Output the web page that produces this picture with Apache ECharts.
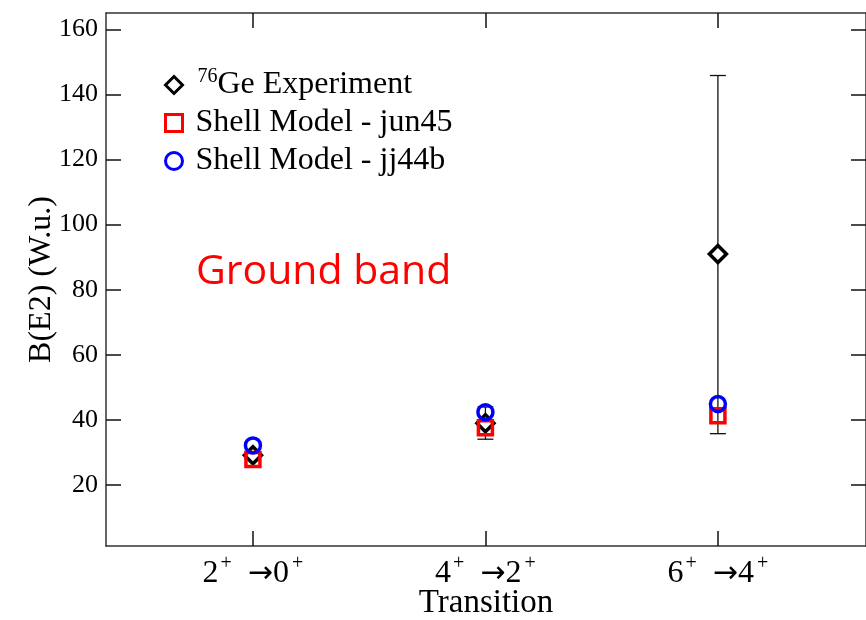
<!DOCTYPE html>
<html>
<head>
<meta charset="utf-8">
<script src="https://cdn.jsdelivr.net/npm/echarts@6/dist/echarts.min.js"></script>
<style>
  html, body { margin: 0; padding: 0; background: #fff; }
  #chart { width: 866px; height: 620px; }
</style>
</head>
<body>
<div id="chart"></div>
<script>
// transitions (x positions 1, 2, 3)
const transitions = [['2', '0'], ['4', '2'], ['6', '4']]
const xPos = [1, 2, 3]

// 76Ge experiment with error bars
const expValues = [29.2, 39.0, 91.0]
const expLow = [28.2, 34.1, 35.8]
const expHigh = [30.2, 44.0, 145.8]

// shell model
const jun45 = [27.9, 37.6, 41.3]
const jj44b = [32.2, 42.4, 44.9]

const yTicks = [20, 40, 60, 80, 100, 120, 140, 160]

const serif = '"Liberation Serif", "Times New Roman", serif'
const axisColor = '#333'

const chart = echarts.init(document.getElementById('chart'))

const pts = (vals) => vals.map((v, i) => [xPos[i], v])

chart.setOption({
  animation: false,
  grid: { left: 106, right: 0, top: 13, bottom: 74, outerBoundsMode: 'none' },
  legend: {
    orient: 'vertical',
    left: 159,
    top: 62,
    itemGap: 6,
    itemWidth: 17,
    itemHeight: 17,
    data: [
      { name: '76Ge Experiment', itemStyle: { color: '#fff', borderColor: '#000', borderWidth: 3 } },
      { name: 'Shell Model - jun45', itemStyle: { color: '#fff', borderColor: '#ff0000', borderWidth: 3 } },
      { name: 'Shell Model - jj44b', itemStyle: { color: '#fff', borderColor: '#0000ff', borderWidth: 3 } }
    ],
    formatter: (name) => {
      if (name === '76Ge Experiment') return '{sup|76}{g|Ge Experiment}'
      return '{t|' + name + '}'
    },
    textStyle: {
      fontFamily: serif,
      color: '#000',
      rich: {
        t: { fontFamily: serif, fontSize: 32, color: '#000', padding: [0, 0, 0, 8] },
        g: { fontFamily: serif, fontSize: 32, color: '#000', padding: [0, 0, 0, 0] },
        sup: { fontFamily: serif, fontSize: 20, color: '#000', padding: [0, 0, 16, 10] }
      }
    }
  },
  xAxis: [
    {
      type: 'value',
      min: 0.368,
      max: 3.637,
      name: 'Transition',
      nameLocation: 'middle',
      nameGap: 41,
      nameMoveOverlap: false,
      nameTextStyle: { fontFamily: serif, fontSize: 33, color: '#000' },
      splitLine: { show: false },
      axisLine: { lineStyle: { color: axisColor, width: 1.5 } },
      axisTick: { inside: true, length: 15, customValues: xPos, lineStyle: { color: '#111', width: 1.5 } },
      axisLabel: {
        customValues: xPos,
        margin: 8,
        formatter: (v) => {
          const t = transitions[Math.round(v) - 1]
          return '{n|' + t[0] + '}{s|+}{a|→}{n|' + t[1] + '}{s2|+}'
        },
        rich: {
          n: { fontFamily: serif, fontSize: 32, color: '#000' },
          a: { fontFamily: '"DejaVu Sans", sans-serif', fontSize: 30, color: '#000', padding: [0, 0, 0, 16] },
          s: { fontFamily: serif, fontSize: 20, color: '#000', padding: [0, 0, 20, 2] },
          s2: { fontFamily: serif, fontSize: 20, color: '#000', padding: [0, 0, 20, 3] }
        }
      }
    },
    {
      type: 'value',
      position: 'top',
      min: 0.368,
      max: 3.637,
      splitLine: { show: false },
      axisLine: { lineStyle: { color: axisColor, width: 1.5 } },
      axisTick: { inside: true, length: 15, customValues: xPos, lineStyle: { color: '#111', width: 1.5 } },
      axisLabel: { show: false }
    }
  ],
  yAxis: [
    {
      type: 'value',
      min: 1.3,
      max: 165,
      name: 'B(E2) (W.u.)',
      nameLocation: 'middle',
      nameGap: 48,
      nameMoveOverlap: false,
      nameTextStyle: { fontFamily: serif, fontSize: 32, color: '#000' },
      splitLine: { show: false },
      axisLine: { lineStyle: { color: axisColor, width: 1.5 } },
      axisTick: { inside: true, length: 15, customValues: yTicks, lineStyle: { color: '#111', width: 1.5 } },
      axisLabel: { customValues: yTicks, fontFamily: serif, fontSize: 26, color: '#000', margin: 8 }
    },
    {
      type: 'value',
      position: 'right',
      min: 1.3,
      max: 165,
      splitLine: { show: false },
      axisLine: { lineStyle: { color: axisColor, width: 1.5 } },
      axisTick: { inside: true, length: 15, customValues: yTicks, lineStyle: { color: '#111', width: 1.5 } },
      axisLabel: { show: false }
    }
  ],
  graphic: [
    {
      type: 'text',
      left: 196,
      top: 252,
      style: {
        text: 'Ground band',
        fontFamily: '"Open Sans", sans-serif',
        fontSize: 41,
        fill: '#ff0000'
      }
    }
  ],
  series: [
    {
      name: 'errorbar',
      type: 'custom',
      z: 1,
      data: xPos.map((x, i) => [x, expLow[i], expHigh[i]]),
      renderItem: (params, api) => {
        const lo = api.coord([api.value(0), api.value(1)])
        const hi = api.coord([api.value(0), api.value(2)])
        const w = 8
        const style = { stroke: '#111', lineWidth: 1.3 }
        return {
          type: 'group',
          children: [
            { type: 'line', shape: { x1: lo[0], y1: lo[1], x2: hi[0], y2: hi[1] }, style },
            { type: 'line', shape: { x1: lo[0] - w, y1: lo[1], x2: lo[0] + w, y2: lo[1] }, style },
            { type: 'line', shape: { x1: hi[0] - w, y1: hi[1], x2: hi[0] + w, y2: hi[1] }, style }
          ]
        }
      }
    },
    {
      name: '76Ge Experiment',
      type: 'scatter',
      z: 2,
      symbol: 'diamond',
      symbolSize: 17,
      itemStyle: { color: '#fff', borderColor: '#000', borderWidth: 3.5, opacity: 1 },
      data: pts(expValues)
    },
    {
      name: 'Shell Model - jun45',
      type: 'scatter',
      z: 3,
      symbol: 'rect',
      symbolSize: 14,
      itemStyle: { color: 'rgba(255,255,255,0)', borderColor: '#ff0000', borderWidth: 3.5, opacity: 1 },
      data: pts(jun45)
    },
    {
      name: 'Shell Model - jj44b',
      type: 'scatter',
      z: 4,
      symbol: 'circle',
      symbolSize: 15,
      itemStyle: { color: 'rgba(255,255,255,0)', borderColor: '#0000ff', borderWidth: 3.5, opacity: 1 },
      data: pts(jj44b)
    }
  ]
})
</script>
</body>
</html>
